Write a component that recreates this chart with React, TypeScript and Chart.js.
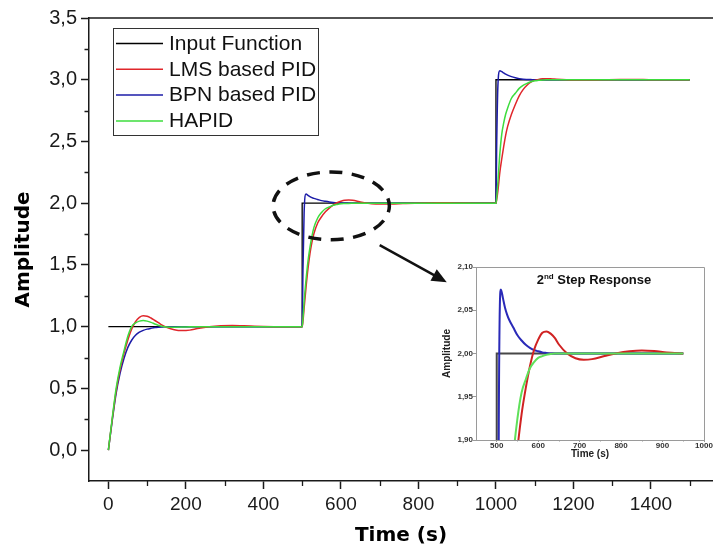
import React, { useEffect, useRef } from 'react';
import { Chart, registerables } from 'chart.js';

Chart.register(...registerables);

// ---------------- data ----------------
const seriesLabels = ['Input Function', 'LMS based PID', 'BPN based PID', 'HAPID'];
const seriesColors = ['#000000', '#e0262b', '#1c1ca8', '#3ddc3d'];
const insetColors = ['#474747', '#d02222', '#2a2ab8', '#5fe05a'];

const inputTime = [0, 500, 500, 1000, 1000, 1500];
const inputValue = [1, 1, 2, 2, 3, 3];

const timeS = [
  0, 10, 20, 30, 40, 50, 60, 70, 80, 90, 100, 110, 120, 130, 140, 150, 170, 190, 210, 230, 260, 290, 320, 350, 400, 450,
  500, 502, 505, 510, 515, 520, 525, 530, 540, 550, 560, 570, 580, 590, 600, 610, 620, 630, 640, 650, 670, 690, 710, 730, 760, 790, 820, 850, 880, 910, 950,
  1000, 1002, 1005, 1010, 1015, 1020, 1025, 1030, 1040, 1050, 1060, 1070, 1080, 1090, 1100, 1110, 1120, 1130, 1140, 1150, 1170, 1190, 1210, 1230, 1260, 1290, 1320, 1350, 1380, 1410, 1450, 1500,
];

const lmsPid = [
  0, 0.25, 0.48, 0.65, 0.78, 0.89, 0.98, 1.04, 1.075, 1.088, 1.085, 1.07, 1.05, 1.03, 1.01, 0.995, 0.975, 0.968, 0.972, 0.985, 1.0, 1.008, 1.01, 1.007, 1.002, 1.0,
  1.0, 1.04, 1.15, 1.32, 1.47, 1.59, 1.68, 1.75, 1.84, 1.89, 1.93, 1.96, 1.985, 2.004, 2.016, 2.024, 2.0255, 2.023, 2.018, 2.0104, 2.0, 1.9945, 1.9928, 1.9935, 1.997, 2.0003, 2.0025, 2.0035, 2.0028, 2.0012, 2.0,
  2.0, 2.03, 2.1, 2.25, 2.36, 2.46, 2.55, 2.62, 2.72, 2.8, 2.87, 2.92, 2.955, 2.98, 2.995, 3.003, 3.007, 3.008, 3.007, 3.005, 3.001, 2.998, 2.997, 2.997, 2.998, 3.0, 3.001, 3.001, 3.001, 3.0, 3.0, 3.0,
];

const bpnPid = [
  0, 0.24, 0.46, 0.62, 0.74, 0.83, 0.89, 0.93, 0.955, 0.97, 0.98, 0.987, 0.993, 0.996, 0.998, 1.0, 1.0, 1.0, 1.0, 1.0, 1.0, 1.0, 1.0, 1.0, 1.0, 1.0,
  1.0, 1.45, 1.92, 2.074, 2.064, 2.053, 2.045, 2.039, 2.03, 2.021, 2.015, 2.01, 2.0065, 2.004, 2.0025, 2.0013, 2.0006, 2.0, 2.0, 2.0, 2.0, 2.0, 2.0, 2.0, 2.0, 2.0, 2.0, 2.0, 2.0, 2.0, 2.0,
  2.0, 2.5, 2.95, 3.072, 3.065, 3.055, 3.045, 3.037, 3.025, 3.016, 3.009, 3.004, 3.002, 3.001, 3.0, 3.0, 3.0, 3.0, 3.0, 3.0, 3.0, 3.0, 3.0, 3.0, 3.0, 3.0, 3.0, 3.0, 3.0, 3.0, 3.0, 3.0,
];

const hapid = [
  0, 0.26, 0.5, 0.67, 0.8, 0.92, 1.0, 1.03, 1.045, 1.05, 1.045, 1.035, 1.022, 1.01, 1.002, 0.998, 0.996, 0.997, 0.999, 1.0, 1.0, 1.0, 1.0, 1.0, 1.0, 1.0,
  1.0, 1.06, 1.2, 1.38, 1.53, 1.64, 1.73, 1.8, 1.88, 1.925, 1.955, 1.97, 1.983, 1.99, 1.995, 1.997, 1.9985, 1.9993, 2.0, 2.0, 2.0, 2.0, 2.0, 2.0, 2.0, 2.0, 2.0, 2.0, 2.0, 2.0, 2.0,
  2.0, 2.05, 2.17, 2.4, 2.56, 2.65, 2.72, 2.77, 2.85, 2.89, 2.93, 2.955, 2.97, 2.983, 2.991, 2.995, 2.998, 3.0, 3.0, 3.0, 3.0, 3.0, 3.0, 3.0, 3.0, 3.0, 3.0, 3.0, 3.0, 3.0, 3.0, 3.0,
];

const xMajorTicks = [0, 200, 400, 600, 800, 1000, 1200, 1400];
const xMinorTicks = [100, 300, 500, 700, 900, 1100, 1300, 1500];
const yMajorTicks = [0, 0.5, 1.0, 1.5, 2.0, 2.5, 3.0, 3.5];
const yMinorTicks = [0.25, 0.75, 1.25, 1.75, 2.25, 2.75, 3.25];

const xAxisTitle = 'Time (s)';
const yAxisTitle = 'Amplitude';

// inset (2nd step zoom)
const insetXTicks = [500, 600, 700, 800, 900, 1000];
const insetXMinorTicks = [550, 650, 750, 850, 950];
const insetYTicks = [1.9, 1.95, 2.0, 2.05, 2.1];
const insetTitleBase = '2';
const insetTitleSup = 'nd';
const insetTitleRest = ' Step Response';
const INSET_START = 450;
const INSET_END = 950;

// annotation (dashed ellipse + arrow), in data units
const ellipseCenter = { t: 575, v: 1.978 };
const ellipseRadius = { t: 150, v: 0.275 };
const arrowFrom = { t: 700, v: 1.66 };
const arrowTo = { t: 873, v: 1.36 };

// ---------------- helpers ----------------
const AXIS = '#1a1a1a';
const FONT = '"Liberation Sans", Arial, sans-serif';
const TITLE_FONT = '"DejaVu Sans", sans-serif';

const pts = (ts: number[], vs: number[]) => ts.map((t, i) => ({ x: t, y: vs[i] }));
const windowPts = (p: { x: number; y: number }[], end: number) => {
  const out = p.filter((q) => q.x <= end);
  const last = out[out.length - 1];
  if (last && last.x < end) out.push({ x: end, y: last.y });
  return out;
};
const comma = (v: number, d: number) => Number(v).toFixed(d).replace('.', ',');

const seriesValues = [null, lmsPid, bpnPid, hapid];
// drawing order: HAPID on top, then LMS, BPN, input at bottom
const drawOrder = [3, 1, 2, 0];

function buildDatasets(inset: boolean) {
  return drawOrder.map((idx) => {
    let data =
      idx === 0 ? pts(inputTime, inputValue) : pts(timeS, seriesValues[idx] as number[]);
    if (inset) data = windowPts(data, INSET_END);
    return {
      label: seriesLabels[idx],
      data,
      borderColor: inset ? insetColors[idx] : seriesColors[idx],
      borderWidth: inset ? 2 : idx === 0 ? 1.3 : 1.5,
      pointRadius: 0,
      fill: false,
      tension: idx === 0 ? 0 : 0.4,
      cubicInterpolationMode: idx === 0 ? 'default' : 'monotone',
    };
  });
}

const mainDecor = {
  id: 'mainDecor',
  afterDraw(chart: any) {
    const { ctx, chartArea: a, scales } = chart;
    const xs = scales.x;
    const ys = scales.y;
    ctx.save();
    // top frame line
    ctx.strokeStyle = AXIS;
    ctx.lineWidth = 1.5;
    ctx.beginPath();
    ctx.moveTo(a.left, a.top);
    ctx.lineTo(a.right, a.top);
    ctx.stroke();
    // minor ticks
    ctx.lineWidth = 1.3;
    ctx.beginPath();
    xMinorTicks.forEach((v) => {
      const p = Math.round(xs.getPixelForValue(v)) + 0.5;
      ctx.moveTo(p, a.bottom);
      ctx.lineTo(p, a.bottom + 5);
    });
    yMinorTicks.forEach((v) => {
      const p = Math.round(ys.getPixelForValue(v)) + 0.5;
      ctx.moveTo(a.left, p);
      ctx.lineTo(a.left - 4.5, p);
    });
    ctx.stroke();

    // dashed ellipse
    const cx = xs.getPixelForValue(ellipseCenter.t);
    const cy = ys.getPixelForValue(ellipseCenter.v);
    const rx = Math.abs(xs.getPixelForValue(ellipseCenter.t + ellipseRadius.t) - cx);
    const ry = Math.abs(ys.getPixelForValue(ellipseCenter.v + ellipseRadius.v) - cy);
    ctx.strokeStyle = '#111';
    ctx.lineWidth = 3.5;
    ctx.setLineDash([13, 9.5]);
    ctx.lineDashOffset = 6.5;
    ctx.beginPath();
    ctx.ellipse(cx, cy, rx, ry, 0, 0, Math.PI * 2);
    ctx.stroke();
    ctx.setLineDash([]);

    // arrow
    const x1 = xs.getPixelForValue(arrowFrom.t);
    const y1 = ys.getPixelForValue(arrowFrom.v);
    const x2 = xs.getPixelForValue(arrowTo.t);
    const y2 = ys.getPixelForValue(arrowTo.v);
    const ang = Math.atan2(y2 - y1, x2 - x1);
    const headLen = 15;
    const headW = 6.5;
    const bx = x2 - headLen * Math.cos(ang);
    const by = y2 - headLen * Math.sin(ang);
    ctx.lineWidth = 2.5;
    ctx.beginPath();
    ctx.moveTo(x1, y1);
    ctx.lineTo(bx + 1 * Math.cos(ang), by + 1 * Math.sin(ang));
    ctx.stroke();
    ctx.fillStyle = '#111';
    ctx.beginPath();
    ctx.moveTo(x2, y2);
    ctx.lineTo(bx + headW * Math.sin(ang), by - headW * Math.cos(ang));
    ctx.lineTo(bx - headW * Math.sin(ang), by + headW * Math.cos(ang));
    ctx.closePath();
    ctx.fill();

    // legend box
    const lx = a.left + 24;
    const ly = a.top + 10;
    const lw = 205;
    const lh = 107;
    ctx.strokeStyle = '#333';
    ctx.lineWidth = 1;
    ctx.strokeRect(Math.round(lx) + 0.5, Math.round(ly) + 0.5, lw, lh);
    ctx.font = `21px ${FONT}`;
    ctx.textBaseline = 'middle';
    ctx.textAlign = 'left';
    seriesLabels.forEach((label, i) => {
      const ry2 = ly + 15.5 + i * 25.8;
      ctx.strokeStyle = seriesColors[i];
      ctx.lineWidth = 1.5;
      ctx.beginPath();
      ctx.moveTo(lx + 3, ry2);
      ctx.lineTo(lx + 50, ry2);
      ctx.stroke();
      ctx.fillStyle = '#111';
      ctx.fillText(label, lx + 56, ry2 + 0.5);
    });
    ctx.restore();
  },
};

const insetDecor = {
  id: 'insetDecor',
  afterDraw(chart: any) {
    const { ctx, chartArea: a, scales } = chart;
    const xs = scales.x;
    ctx.save();
    ctx.strokeStyle = '#9a9a9a';
    ctx.lineWidth = 1;
    ctx.beginPath();
    ctx.moveTo(Math.round(a.left), Math.round(a.top) + 0.5);
    ctx.lineTo(Math.round(a.right) + 0.5, Math.round(a.top) + 0.5);
    ctx.lineTo(Math.round(a.right) + 0.5, Math.round(a.bottom));
    ctx.stroke();
    ctx.beginPath();
    insetXMinorTicks.forEach((v) => {
      const p = Math.round(xs.getPixelForValue(v)) + 0.5;
      ctx.moveTo(p, a.bottom);
      ctx.lineTo(p, a.bottom + 1.5);
    });
    ctx.stroke();
    // title with superscript
    const big = `bold 13px ${FONT}`;
    const small = `bold 8px ${FONT}`;
    ctx.font = big;
    const w1 = ctx.measureText(insetTitleBase).width;
    const w3 = ctx.measureText(insetTitleRest).width;
    ctx.font = small;
    const w2 = ctx.measureText(insetTitleSup).width;
    const total = w1 + w2 + w3;
    const cx = (a.left + a.right) / 2 + 4;
    const base = a.top + 16.5;
    let x = cx - total / 2;
    ctx.fillStyle = '#111';
    ctx.textBaseline = 'alphabetic';
    ctx.textAlign = 'left';
    ctx.font = big;
    ctx.fillText(insetTitleBase, x, base);
    x += w1;
    ctx.font = small;
    ctx.fillText(insetTitleSup, x, base - 5);
    x += w2;
    ctx.font = big;
    ctx.fillText(insetTitleRest, x, base);
    ctx.restore();
  },
};

function mainConfig(): any {
  return {
    type: 'line',
    data: { datasets: buildDatasets(false) },
    options: {
      responsive: false,
      animation: false,
      devicePixelRatio: 1,
      parsing: true,
      layout: { padding: { top: 18, left: 0, right: 0, bottom: 0 } },
      plugins: { legend: { display: false }, tooltip: { enabled: false }, title: { display: false } },
      scales: {
        x: {
          type: 'linear',
          min: -50,
          max: 1560,
          afterBuildTicks: (s: any) => {
            s.ticks = xMajorTicks.map((v) => ({ value: v }));
          },
          afterFit: (s: any) => {
            s.height = 69;
          },
          ticks: {
            font: { family: FONT, size: 19 },
            color: '#1a1a1a',
            padding: 4,
            maxRotation: 0,
            autoSkip: false,
            callback: (v: any) => String(v),
          },
          grid: { display: true, drawOnChartArea: false, drawTicks: true, tickLength: 8, tickWidth: 1.5, tickColor: AXIS },
          border: { display: true, color: AXIS, width: 1.5 },
          title: {
            display: true,
            text: xAxisTitle,
            color: '#000',
            font: { family: TITLE_FONT, size: 20, weight: 'bold' },
            padding: { top: 0, bottom: 2.5 },
          },
        },
        y: {
          type: 'linear',
          min: -0.25,
          max: 3.5,
          afterBuildTicks: (s: any) => {
            s.ticks = yMajorTicks.map((v) => ({ value: v }));
          },
          afterFit: (s: any) => {
            s.width = 89;
          },
          ticks: {
            font: { family: FONT, size: 20 },
            color: '#1a1a1a',
            padding: 4,
            autoSkip: false,
            callback: (v: any) => comma(v, 1),
          },
          grid: { display: true, drawOnChartArea: false, drawTicks: true, tickLength: 8, tickWidth: 1.5, tickColor: AXIS },
          border: { display: true, color: AXIS, width: 1.5 },
          title: {
            display: true,
            text: yAxisTitle,
            color: '#000',
            font: { family: TITLE_FONT, size: 20, weight: 'bold' },
            padding: { top: 12, bottom: 0 },
          },
        },
      },
    },
    plugins: [mainDecor],
  };
}

function insetConfig(): any {
  return {
    type: 'line',
    data: { datasets: buildDatasets(true) },
    options: {
      responsive: false,
      animation: false,
      devicePixelRatio: 1,
      layout: { padding: { top: 9, left: 0, right: 9, bottom: 0 } },
      plugins: { legend: { display: false }, tooltip: { enabled: false }, title: { display: false } },
      scales: {
        x: {
          type: 'linear',
          min: INSET_START,
          max: 1000,
          afterBuildTicks: (s: any) => {
            s.ticks = insetXTicks.map((v) => ({ value: v }));
          },
          afterFit: (s: any) => {
            s.height = 25;
          },
          ticks: {
            font: { family: FONT, size: 8, weight: 'bold' },
            color: '#333',
            padding: -1,
            maxRotation: 0,
            autoSkip: false,
            callback: (v: any) => String(v),
          },
          grid: { display: true, drawOnChartArea: false, drawTicks: true, tickLength: 2, tickWidth: 1, tickColor: '#9a9a9a' },
          border: { display: true, color: '#9a9a9a', width: 1 },
          title: {
            display: true,
            text: xAxisTitle,
            color: '#222',
            font: { family: FONT, size: 10, weight: 'bold' },
            padding: { top: 0, bottom: 5 },
          },
        },
        y: {
          type: 'linear',
          min: 1.9,
          max: 2.1,
          afterBuildTicks: (s: any) => {
            s.ticks = insetYTicks.map((v) => ({ value: v }));
          },
          afterFit: (s: any) => {
            s.width = 36;
          },
          ticks: {
            font: { family: FONT, size: 8, weight: 'bold' },
            color: '#333',
            padding: 0,
            autoSkip: false,
            callback: (v: any) => comma(v, 2),
          },
          grid: { display: true, drawOnChartArea: false, drawTicks: true, tickLength: 3, tickWidth: 1, tickColor: '#9a9a9a' },
          border: { display: true, color: '#9a9a9a', width: 1 },
          title: {
            display: true,
            text: yAxisTitle,
            color: '#222',
            font: { family: FONT, size: 10, weight: 'bold' },
            padding: { top: 1, bottom: 0 },
          },
        },
      },
    },
    plugins: [insetDecor],
  };
}

export default function App() {
  const mainRef = useRef<HTMLCanvasElement>(null);
  const insetRef = useRef<HTMLCanvasElement>(null);

  useEffect(() => {
    if (!mainRef.current || !insetRef.current) return;
    const main = new Chart(mainRef.current, mainConfig());
    const inset = new Chart(insetRef.current, insetConfig());
    return () => {
      main.destroy();
      inset.destroy();
    };
  }, []);

  return (
    <div style={{ position: 'fixed', left: 0, top: 0, width: 713, height: 550, background: '#ffffff', overflow: 'hidden' }}>
      <canvas
        ref={mainRef}
        width={713}
        height={550}
        style={{ position: 'absolute', left: 0, top: 0, width: 713, height: 550, display: 'block' }}
      />
      <canvas
        ref={insetRef}
        width={273}
        height={207}
        style={{ position: 'absolute', left: 440, top: 258, width: 273, height: 207, display: 'block' }}
      />
    </div>
  );
}
